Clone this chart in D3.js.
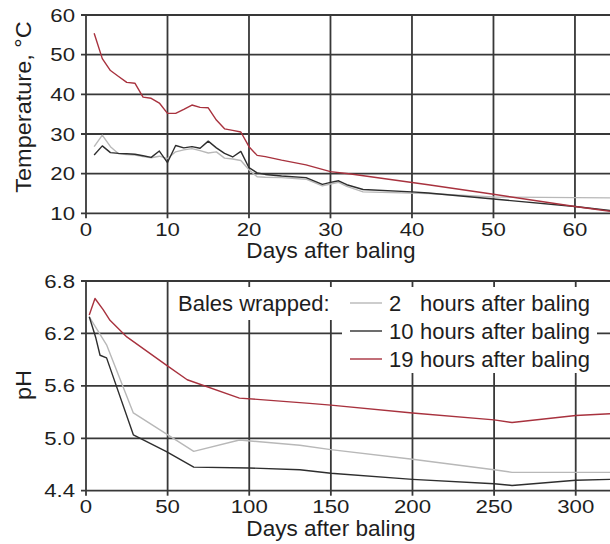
<!DOCTYPE html>
<html><head><meta charset="utf-8">
<script src="https://cdn.jsdelivr.net/npm/d3@7"></script>
<style>
body{margin:0;background:#fff;}
svg text{font-family:"Liberation Sans",Arial,sans-serif;fill:#1e1e1e;}
</style></head>
<body><svg id="c" width="610" height="544"></svg>
<script>
// ---- Data: temperature (top panel) ----
const tempTicksX = [0,10,20,30,40,50,60];
const tempTicksY = [10,20,30,40,50,60];
const temp2h = [[1,26.8],[2,29.7],[3,26.8],[4,25],[5,24.8],[6,24.7],[7,24.3],[8,24],[9,24.4],[10,23.8],[11,25.5],[12,26],[13,26.3],[14,25.8],[15,25.2],[16,25.5],[17,23.9],[18,23.7],[19,23.3],[20,21],[21,19.2],[22,19.1],[24,19.0],[27,18.6],[29,16.9],[30,17.4],[31,17.8],[32,16.8],[34,15.4],[42,15.0],[50,14.1],[64.3,13.9]];
const temp10h = [[1,24.7],[2,27],[3,25.3],[4,25.1],[5,25],[6,24.9],[7,24.5],[8,24.1],[9,25.7],[10,22.8],[11,27.1],[12,26.5],[13,26.8],[14,26.4],[15,28.2],[16,26.5],[17,25.1],[18,24.2],[19,25.6],[20,21.5],[21,20.2],[22,19.8],[24,19.4],[27,19.0],[29,17.3],[30,17.8],[31,18.2],[32,17.2],[34,16.0],[40,15.4],[42,15.1],[50,13.6],[60,11.7],[64.3,10.7]];
const temp19h = [[1,55.4],[2,49],[3,46],[4,44.5],[5,43],[6,42.8],[7,39.3],[8,39],[9,37.8],[10,35.2],[11,35.2],[12,36.2],[13,37.3],[14,36.7],[15,36.6],[16,33.5],[17,31.3],[18,30.9],[19,30.5],[20,26.8],[21,24.6],[22,24.3],[24,23.4],[27,22.2],[30,20.5],[32.5,19.9],[42,17.2],[50,14.8],[60,11.7],[64.3,10.5]];
// ---- Data: pH (bottom panel) ----
const phTicksX = [0,50,100,150,200,250,300];
const phTicksY = [4.4,5.0,5.6,6.2,6.8];
const ph2h = [[2,6.39],[12.6,6.07],[29,5.29],[66,4.85],[94,4.98],[131,4.92],[150,4.87],[200,4.76],[250,4.64],[261,4.61],[321,4.61]];
const ph10h = [[2,6.39],[6,6.15],[8.6,5.95],[12.6,5.92],[29,5.04],[49,4.85],[66,4.67],[100,4.66],[131,4.64],[150,4.60],[200,4.53],[250,4.48],[261,4.46],[300,4.52],[321,4.53]];
const ph19h = [[2,6.41],[5.5,6.60],[10.6,6.47],[14.7,6.35],[25,6.16],[49,5.84],[62,5.67],[94,5.46],[137,5.40],[150,5.38],[200,5.29],[250,5.21],[261,5.18],[300,5.26],[321,5.28]];
const seriesNames = ["2","10","19"];
const seriesColors = ["#b8b8b8","#2e2e2e","#a8323e"];
const legendTitle = "Bales wrapped:";
const legendSuffix = "hours after baling";

const svg = d3.select("#c");
const gridColor = "#383838";

function panel(o){
  const x = d3.scaleLinear().domain(o.xDom).range([86,610]);
  const y = d3.scaleLinear().domain(o.yDom).range(o.yRange);
  const g = svg.append("g");
  const [yb, yt] = o.yRange;
  g.selectAll(".vg").data(o.xTicks).join("line")
    .attr("x1",d=>x(d)).attr("x2",d=>x(d)).attr("y1",yt).attr("y2",yb+5)
    .attr("stroke",gridColor).attr("stroke-width",1.8);
  g.selectAll(".hg").data(o.yTicks).join("line")
    .attr("x1",81).attr("x2",610).attr("y1",d=>y(d)).attr("y2",d=>y(d))
    .attr("stroke",gridColor).attr("stroke-width",1.8);
  g.selectAll(".xl").data(o.xTicks).join("text")
    .attr("transform",d=>`translate(${x(d)},${yb+22.5}) scale(1.2,1)`).attr("text-anchor","middle")
    .attr("font-size",18.5).text(d=>d);
  g.selectAll(".yl").data(o.yTicks).join("text")
    .attr("transform",d=>`translate(75,${y(d)+6.6}) scale(1.2,1)`).attr("text-anchor","end")
    .attr("font-size",18.5).text(d=>o.yFmt(d));
  g.append("text").attr("transform",`translate(331,${yb+45}) scale(1.05,1)`).attr("text-anchor","middle")
    .attr("font-size",21.5).text("Days after baling");
  g.append("text").attr("transform",`translate(31,${o.yTitleY}) rotate(-90) scale(1.07,1)`)
    .attr("text-anchor","middle").attr("font-size",22).text(o.yTitle);
  return {x,y,g};
}

const topPanel = panel({xDom:[0,64.3],yDom:[10,60],yRange:[213.3,15],xTicks:tempTicksX,yTicks:tempTicksY,
  yFmt:d=>d, yTitle:"Temperature, °C", yTitleY:107});
const botPanel = panel({xDom:[0,321],yDom:[4.4,6.8],yRange:[490.7,281],xTicks:phTicksX,yTicks:phTicksY,
  yFmt:d=>d.toFixed(1), yTitle:"pH", yTitleY:385});

svg.append("rect").attr("x",174).attr("y",287).attr("width",164).attr("height",33).attr("fill","#fff");
svg.append("rect").attr("x",342).attr("y",287).attr("width",255).attr("height",86).attr("fill","#fff");

function drawLines(p, data){
  const line = d3.line().x(d=>p.x(d[0])).y(d=>p.y(d[1]));
  data.forEach((s,i)=>{
    p.g.append("path").datum(s).attr("d",line).attr("fill","none")
      .attr("stroke",seriesColors[i]).attr("stroke-width",1.4).attr("stroke-linejoin","round");
  });
}
drawLines(topPanel,[temp2h,temp10h,temp19h]);
drawLines(botPanel,[ph2h,ph10h,ph19h]);

svg.append("text").attr("x",178).attr("y",311).attr("font-size",22).text(legendTitle);
const lg = svg.append("g");
seriesNames.forEach((n,i)=>{
  const by = 311 + i*28;
  lg.append("line").attr("x1",350).attr("x2",382).attr("y1",by-8).attr("y2",by-8)
    .attr("stroke",seriesColors[i]).attr("stroke-width",1.4);
  lg.append("text").attr("x",389).attr("y",by).attr("font-size",22).text(n);
  lg.append("text").attr("x",420).attr("y",by).attr("font-size",22).text(legendSuffix);
});
</script></body></html>
